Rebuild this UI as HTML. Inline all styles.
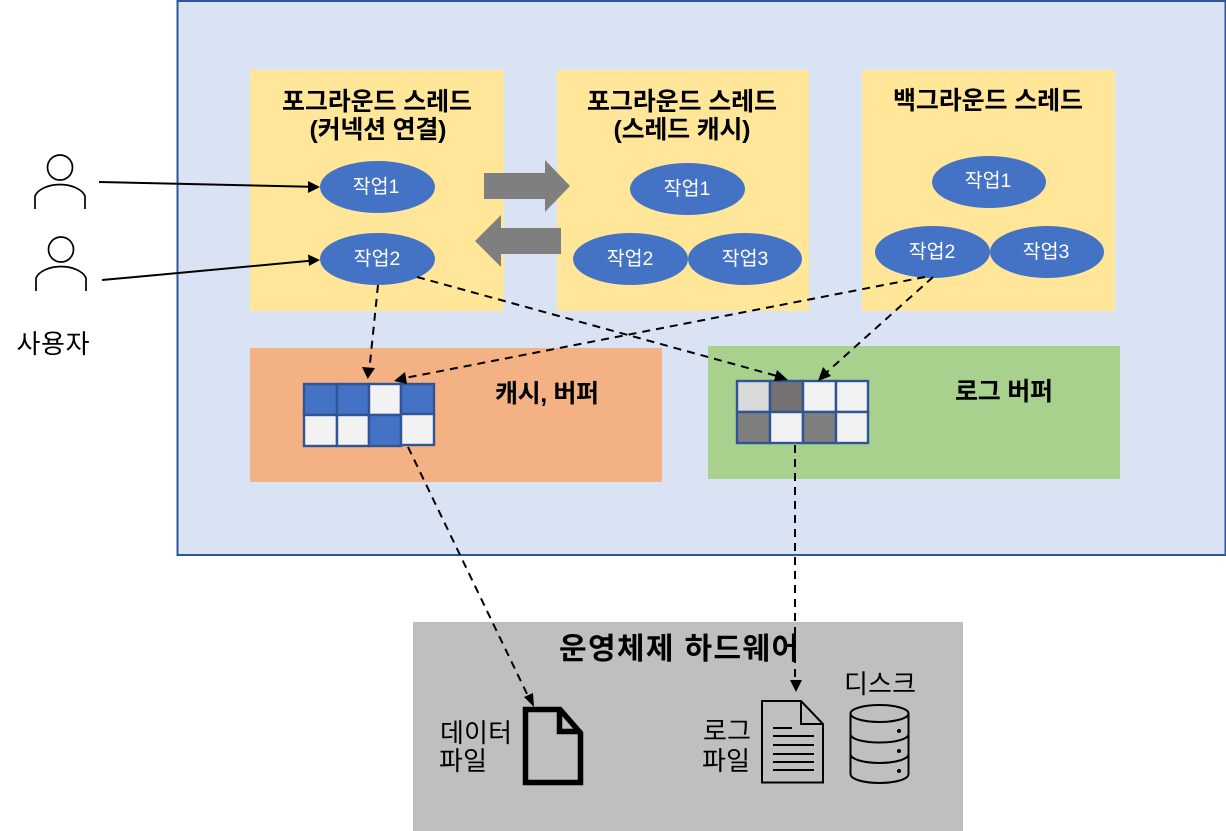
<!DOCTYPE html>
<html><head><meta charset="utf-8">
<style>
html,body{margin:0;padding:0;background:#fff;width:1226px;height:831px;overflow:hidden}
svg{display:block}
text{font-family:"Liberation Sans","Noto Sans CJK KR","NanumGothic",sans-serif}
.t{font-size:25px;font-weight:bold;fill:#000;text-anchor:middle}
.b{font-size:26px;fill:#000;text-anchor:middle}
.w{font-size:19.5px;fill:#fff;text-anchor:middle}
.g{stroke:#2f5597;stroke-width:2.4}
.d{stroke:#000;stroke-width:2;stroke-dasharray:8 6;fill:none}
</style></head><body>
<svg width="1226" height="831" viewBox="0 0 1226 831" xmlns="http://www.w3.org/2000/svg">
<rect x="177.5" y="1" width="1048" height="554" fill="#dae3f3" stroke="#2f5597" stroke-width="2"/>
<rect x="250" y="70" width="254" height="241" fill="#ffe699"/>
<rect x="557" y="70" width="252" height="241" fill="#ffe699"/>
<rect x="862" y="70" width="253" height="241" fill="#ffe699"/>
<rect x="250" y="348" width="412" height="134" fill="#f4b183"/>
<rect x="708" y="346" width="412" height="133" fill="#a9d18e"/>
<rect x="413" y="622" width="550" height="209" fill="#bfbfbf"/>

<text class="t" x="377" y="110" textLength="190">포그라운드 스레드</text>
<text class="t" x="378" y="138" textLength="137">(커넥션 연결)</text>
<text class="t" x="682" y="110" textLength="190">포그라운드 스레드</text>
<text class="t" x="682" y="138" textLength="137">(스레드 캐시)</text>
<text class="t" x="988" y="109" textLength="190">백그라운드 스레드</text>
<text class="t" x="547" y="402" textLength="104">캐시, 버퍼</text>
<text class="t" x="1004" y="400" textLength="98">로그 버퍼</text>
<text x="679" y="659" style="font-size:30px;font-weight:bold;text-anchor:middle" textLength="240">운영체제 하드웨어</text>

<g fill="#4472c4">
<ellipse cx="377.5" cy="187" rx="57.5" ry="26"/>
<ellipse cx="377.5" cy="259" rx="57.5" ry="26"/>
<ellipse cx="687.5" cy="189" rx="57.5" ry="26"/>
<ellipse cx="630.5" cy="259" rx="57.5" ry="26"/>
<ellipse cx="745" cy="259" rx="57" ry="26"/>
<ellipse cx="989" cy="182" rx="57" ry="26"/>
<ellipse cx="932.5" cy="252" rx="57.5" ry="26"/>
<ellipse cx="1047" cy="252" rx="57" ry="26"/>
</g>
<text class="w" x="376" y="193">작업1</text>
<text class="w" x="377" y="265">작업2</text>
<text class="w" x="687" y="195">작업1</text>
<text class="w" x="630" y="265">작업2</text>
<text class="w" x="745" y="265">작업3</text>
<text class="w" x="988" y="187">작업1</text>
<text class="w" x="932" y="258">작업2</text>
<text class="w" x="1046" y="258">작업3</text>

<polygon points="484,173 545,173 545,160 570,186 545,212 545,199 484,199" fill="#7f7f7f"/>
<polygon points="475,241 501,215 501,228 561,228 561,254 501,254 501,267" fill="#7f7f7f"/>

<!-- users -->
<g fill="none" stroke="#000" stroke-width="1.7">
<circle cx="60" cy="167.5" r="12.5"/>
<path d="M35 209V196C38 189 49 184.500 60 184.500C71 184.500 82 189 85 196V209"/>
<circle cx="61" cy="249.500" r="12.5"/>
<path d="M36 291V278C39 271 50 266.500 61 266.500C72 266.500 83 271 86 278V291"/>
</g>
<text class="b" x="53" y="353" textLength="73">사용자</text>

<!-- grid 1 -->
<g class="g">
<rect x="304" y="384" width="33" height="31" fill="#4472c4"/>
<rect x="337" y="384" width="32" height="31" fill="#4472c4"/>
<rect x="369" y="384" width="32" height="31" fill="#f2f2f2"/>
<rect x="401" y="384" width="33" height="31" fill="#4472c4"/>
<rect x="304" y="415" width="33" height="31" fill="#f2f2f2"/>
<rect x="337" y="415" width="32" height="31" fill="#f2f2f2"/>
<rect x="369" y="415" width="32" height="31" fill="#4472c4"/>
<rect x="401" y="414" width="33" height="31" fill="#f2f2f2"/>
</g>
<!-- grid 2 -->
<g class="g">
<rect x="737" y="381" width="33" height="31" fill="#d9d9d9"/>
<rect x="770" y="381" width="33" height="31" fill="#767171"/>
<rect x="803" y="381" width="33" height="31" fill="#f2f2f2"/>
<rect x="836" y="381" width="32" height="31" fill="#f2f2f2"/>
<rect x="737" y="412" width="33" height="31" fill="#7f7f7f"/>
<rect x="770" y="412" width="33" height="31" fill="#f2f2f2"/>
<rect x="803" y="412" width="33" height="31" fill="#7f7f7f"/>
<rect x="836" y="412" width="32" height="31" fill="#f2f2f2"/>
</g>

<!-- solid arrows -->
<g stroke="#000" stroke-width="2" fill="none">
<line x1="99" y1="182" x2="310" y2="186.8"/>
<line x1="102" y1="280" x2="310" y2="260.8"/>
</g>
<polygon points="320,187 308,181 308,193"/>
<polygon points="320,260 308,254.500 309,266"/>

<!-- dashed connectors -->
<line class="d" x1="378" y1="285" x2="369.5" y2="368"/>
<polygon points="367.7,379 362,367 375,368"/>
<line class="d" x1="417" y1="277" x2="777" y2="376"/>
<polygon points="788,380 774,381 777,370"/>
<line class="d" x1="925" y1="277" x2="405" y2="378"/>
<polygon points="394,381 405,372 407,384"/>
<line class="d" x1="933" y1="277" x2="827" y2="372"/>
<polygon points="818,381 823,367 831,376"/>
<line class="d" x1="408" y1="447" x2="528" y2="696"/>
<polygon points="534,707 524,697 533,693"/>
<line class="d" x1="795" y1="445" x2="795" y2="682"/>
<polygon points="796,692 790,680 802,680"/>

<!-- data file -->
<g fill="none" stroke="#000" stroke-width="5.5">
<path d="M525.500 709.500H560L580.500 733V782.500H525.500Z"/>
<path d="M559.500 709V731.500H580"/>
</g>
<text class="b" x="476" y="742" textLength="72">데이터</text>
<text class="b" x="463" y="770" textLength="48">파일</text>

<!-- log file -->
<g fill="none" stroke="#000" stroke-width="2">
<path d="M762 701H801L823 724V782.500H762Z"/>
<path d="M801 701V724H823"/>
<path d="M773 728H792M773 736H814M773 745H814M773 754H814M773 762H814M773 770H814"/>
</g>
<text class="b" x="727" y="740" textLength="48">로그</text>
<text class="b" x="726" y="770" textLength="48">파일</text>

<!-- disk -->
<g fill="none" stroke="#000" stroke-width="2">
<ellipse cx="879.500" cy="713.500" rx="29" ry="8.500"/>
<path d="M850.500 713.500V774C850.500 779 863 783 879.500 783C896 783 908.500 779 908.500 774V713.500"/>
<path d="M850.500 734C850.500 739 863 742.500 879.500 742.500C896 742.500 908.500 739 908.500 734"/>
<path d="M850.500 754C850.500 759 863 763 879.500 763C896 763 908.500 759 908.500 754"/>
</g>
<circle cx="899" cy="731" r="2"/><circle cx="899" cy="751" r="2"/><circle cx="899" cy="771" r="2"/>
<text class="b" x="880" y="693" textLength="72">디스크</text>
</svg>
</body></html>
